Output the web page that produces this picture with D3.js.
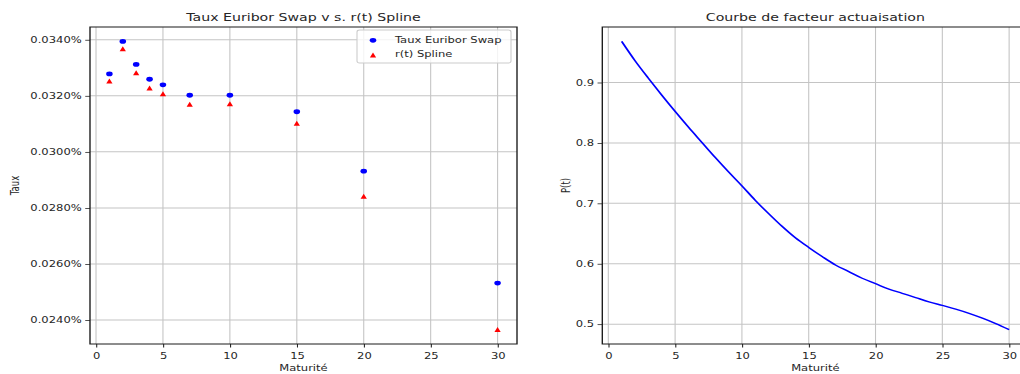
<!DOCTYPE html>
<html><head><meta charset="utf-8">
<script src="https://cdn.jsdelivr.net/npm/d3@7"></script>
<style>
html,body{margin:0;padding:0;background:#fff;}
svg{display:block;}
text{font-family:"DejaVu Sans",sans-serif;fill:#262626;}
</style></head>
<body><svg id="chart" width="1020" height="374"></svg>
<script>
// ---- data ----
const maturities = [1, 2, 3, 4, 5, 7, 10, 15, 20, 30];
const swapRates = [0.03278, 0.03394, 0.03312, 0.03259, 0.03239, 0.03202, 0.03202, 0.03143, 0.02931, 0.02532];
const splineRates = [0.03253, 0.03368, 0.03282, 0.03228, 0.03207, 0.03170, 0.03172, 0.03102, 0.02842, 0.02366];
const curveT = [1,2,3,4,5,6,7,8,9,10,11,12,13,14,15,16,17,18,19,20,21,22,23,24,25,26,27,28,29,30];
const curveP = [0.968,0.936,0.907,0.879,0.852,0.826,0.801,0.776,0.752,0.729,0.705,0.683,0.662,0.643,0.627,0.612,0.598,0.587,0.576,0.567,0.558,0.551,0.544,0.537,0.531,0.525,0.518,0.510,0.501,0.491];
const xTicks = [0, 5, 10, 15, 20, 25, 30];
const yTicksLeft = [0.0240, 0.0260, 0.0280, 0.0300, 0.0320, 0.0340];
const yTicksRight = [0.5, 0.6, 0.7, 0.8, 0.9];
const titleLeft = "Taux Euribor Swap v s. r(t) Spline";
const titleRight = "Courbe de facteur actuaisation";
const xLabel = "Maturité";
const yLabelLeft = "Taux";
const yLabelRight = "P(t)";
const legendLabels = ["Taux Euribor Swap", "r(t) Spline"];

// ---- layout ----
const SX = 1.36;
const FS = 8.5, TFS = 10.4;
const svg = d3.select("#chart");
const root = svg.append("g").attr("transform", `scale(${SX},1)`);

function pad(vals) {
  const lo = d3.min(vals), hi = d3.max(vals), r = hi - lo;
  return [lo - 0.05 * r, hi + 0.05 * r];
}

function panel(box, yDomain, yTicks, yFmt, title, yLabel, yLabelX) {
  const g = root.append("g");
  const x = d3.scaleLinear().domain(pad(maturities.concat(curveT))).range([box.x0, box.x1]);
  const y = d3.scaleLinear().domain(yDomain).range([box.y1, box.y0]);
  g.append("g").selectAll("line").data(xTicks).join("line")
    .attr("x1", d => x(d)).attr("x2", d => x(d)).attr("y1", box.y0).attr("y2", box.y1)
    .attr("stroke", "#c4c4c4").attr("stroke-width", 0.8);
  g.append("g").selectAll("line").data(yTicks).join("line")
    .attr("x1", box.x0).attr("x2", box.x1).attr("y1", d => y(d)).attr("y2", d => y(d))
    .attr("stroke", "#c4c4c4").attr("stroke-width", 1);
  const ax = g.append("g").attr("transform", `translate(0,${box.y1})`)
    .call(d3.axisBottom(x).tickValues(xTicks).tickFormat(d3.format("d")).tickSize(3.5).tickPadding(5.5));
  const ay = g.append("g").attr("transform", `translate(${box.x0},0)`)
    .call(d3.axisLeft(y).tickValues(yTicks).tickFormat(yFmt).tickSize(3.5).tickPadding(2.6));
  [ax, ay].forEach(a => {
    a.select(".domain").remove();
    a.selectAll(".tick line").attr("stroke", "#262626").attr("stroke-width", 0.8);
    a.selectAll(".tick text").attr("font-size", FS).attr("font-family", "DejaVu Sans").attr("fill", "#262626");
  });
  g.append("text").attr("x", (box.x0 + box.x1) / 2).attr("y", 21)
    .attr("text-anchor", "middle").attr("font-size", TFS).text(title);
  g.append("text").attr("x", (box.x0 + box.x1) / 2).attr("y", 371)
    .attr("text-anchor", "middle").attr("font-size", FS).text(xLabel);
  g.append("text").attr("transform", `translate(${yLabelX},${(box.y0 + box.y1) / 2}) rotate(-90)`)
    .attr("text-anchor", "middle").attr("font-size", FS).text(yLabel);
  return {g, x, y};
}

function spines(g, box) {
  g.append("rect").attr("x", box.x0).attr("y", box.y0)
    .attr("width", box.x1 - box.x0).attr("height", box.y1 - box.y0)
    .attr("fill", "none").attr("stroke", "#1a1a1a").attr("stroke-width", 1);
}

// left panel
const boxL = {x0: 90 / SX, x1: 517 / SX, y0: 27, y1: 344};
const L = panel(boxL, pad(swapRates.concat(splineRates)), yTicksLeft,
  d => d3.format(".4f")(d) + "%", titleLeft, yLabelLeft, 14.3);

L.g.append("g").selectAll("circle").data(maturities).join("circle")
  .attr("cx", d => L.x(d)).attr("cy", (d, i) => L.y(swapRates[i]))
  .attr("r", 2.4).attr("fill", "#0000ff");
const tri = "M0,-2.5L2.3,2.5L-2.3,2.5Z";
L.g.append("g").selectAll("path").data(maturities).join("path")
  .attr("d", tri)
  .attr("transform", (d, i) => `translate(${L.x(d)},${L.y(splineRates[i])})`)
  .attr("fill", "#ff0000");
spines(L.g, boxL);

// legend
const lg = L.g.append("g");
lg.append("rect").attr("x", 357 / SX).attr("y", 30).attr("width", (511 - 357) / SX).attr("height", 33)
  .attr("rx", 2).attr("fill", "#fff").attr("fill-opacity", 0.8).attr("stroke", "#cccccc").attr("stroke-width", 0.8);
lg.append("circle").attr("cx", 373 / SX).attr("cy", 40.3).attr("r", 2.4).attr("fill", "#0000ff");
lg.append("path").attr("d", tri).attr("transform", `translate(${373 / SX},55)`).attr("fill", "#ff0000");
lg.selectAll("text").data(legendLabels).join("text")
  .attr("x", 395 / SX).attr("y", (d, i) => i === 0 ? 42.8 : 56.6)
  .attr("font-size", FS).text(d => d);

// right panel
const boxR = {x0: 602.3 / SX, x1: 1028.5 / SX, y0: 27, y1: 344};
const R = panel(boxR, pad(curveP), yTicksRight, d3.format(".1f"), titleRight, yLabelRight, 419);
R.g.append("path").datum(curveT)
  .attr("d", d3.line().x(d => R.x(d)).y((d, i) => R.y(curveP[i])).curve(d3.curveCatmullRom))
  .attr("fill", "none").attr("stroke", "#0000ff").attr("stroke-width", 1.4);
spines(R.g, boxR);
</script></body></html>
